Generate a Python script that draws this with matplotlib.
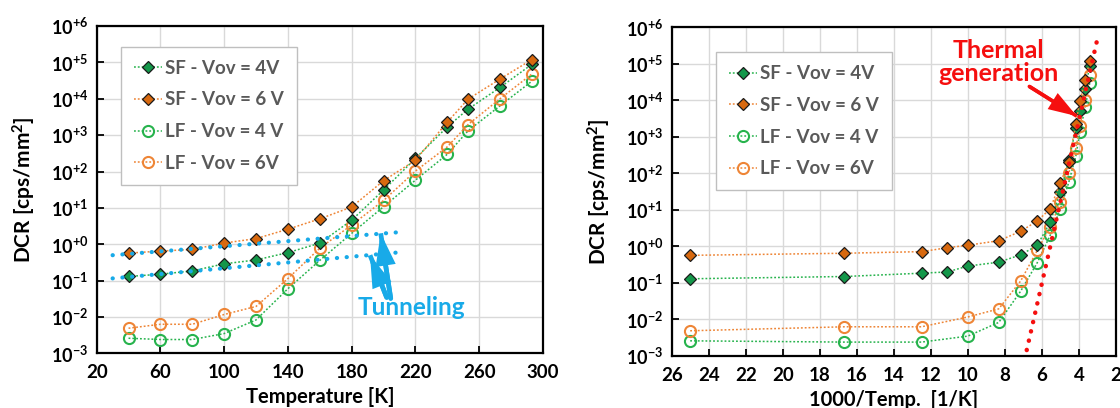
import numpy as np
import matplotlib
matplotlib.use("Agg")
import matplotlib.pyplot as plt
from matplotlib.ticker import FixedLocator, FuncFormatter, NullLocator
from matplotlib.patches import FancyArrowPatch

plt.rcParams['font.family'] = ['Lato', 'DejaVu Sans']
plt.rcParams['font.weight'] = 'bold'
plt.rcParams['mathtext.fontset'] = 'custom'
plt.rcParams['mathtext.rm'] = 'Lato:bold'
plt.rcParams['mathtext.bf'] = 'Lato:bold'
plt.rcParams['mathtext.it'] = 'Lato:bold'

# ---------------- data ----------------
T_SF = [40, 60, 80, 90, 100, 120, 140, 160, 180, 200, 220, 240, 253, 273, 293]
SF_4V = [0.13, 0.15, 0.185, 0.20, 0.29, 0.37, 0.59, 1.07, 4.6, 31, 230, 1700, 5200, 20500, 89000]
SF_6V = [0.57, 0.65, 0.72, 0.92, 1.08, 1.43, 2.6, 5.0, 10.6, 56, 205, 2300, 9800, 35000, 120000]
SF_IN_LEFT = [True, True, True, False, True, True, True, True, True, True, True, True, True, True, True]

T_LF = [40, 60, 80, 100, 120, 140, 160, 180, 200, 220, 240, 253, 273, 293]
LF_4V = [0.0026, 0.0024, 0.0024, 0.0035, 0.0083, 0.06, 0.36, 2.0, 10.8, 58, 300, 1320, 6400, 30500]
LF_6V = [0.0049, 0.0063, 0.0063, 0.0117, 0.0195, 0.114, 0.78, 3.4, 16, 103, 480, 1960, 10000, 48000]

labels = ["SF - Vov = 4V", "SF - Vov = 6 V", "LF - Vov = 4 V", "LF - Vov = 6V"]

# annotation guide lines
tun_x = [30, 210]
tun_upper = [0.5, 2.15]
tun_lower = [0.115, 0.6]
therm_x = [6.82, 3.04]
therm_y = [1.45e-3, 4.0e5]

left_xticks = [20, 60, 100, 140, 180, 220, 260, 300]
right_xticks = [26, 24, 22, 20, 18, 16, 14, 12, 10, 8, 6, 4, 2]
yticks = [1e-3, 1e-2, 1e-1, 1e0, 1e1, 1e2, 1e3, 1e4, 1e5, 1e6]

# ---------------- style ----------------
g_dark = '#14974A'
g_line = '#27B34D'
o_dark = '#D8690F'
o_line = '#EE8536'
blue = '#18AAE8'
red = '#F50F0F'
txtgrey = '#595959'

fig = plt.figure(figsize=(11.2, 4.08), dpi=100)
axL = fig.add_axes([0.0863, 0.134, 0.3985, 0.802])
axR = fig.add_axes([0.5997, 0.1275, 0.3967, 0.8056])

def fmt(v, pos):
    e = int(round(np.log10(v)))
    s = '+%d' % e if e >= 0 else '-%d' % (-e)
    return r'$\mathbf{10^{%s}}$' % s

def style(ax):
    ax.set_yscale('log')
    ax.set_ylim(1e-3, 1e6)
    ax.yaxis.set_major_locator(FixedLocator(yticks))
    ax.yaxis.set_minor_locator(NullLocator())
    ax.yaxis.set_major_formatter(FuncFormatter(fmt))
    ax.grid(True, which='major', color='#d9d9d9', lw=1.0, zorder=0)
    ax.set_axisbelow(True)
    for sp in ax.spines.values():
        sp.set_linewidth(1.6)
        sp.set_color('black')
    ax.tick_params(axis='both', direction='in', length=5, width=1.3,
                   top=False, right=False)
    ax.tick_params(axis='y', pad=6, labelsize=13)
    ax.tick_params(axis='x', pad=8, labelsize=13.5)
    ax.set_ylabel('DCR [cps/mm$^{2}$]', fontsize=15, fontweight='bold', labelpad=9)

def plot_series(ax, xsf, xlf, sf_mask):
    xs = [x for x, m in zip(xsf, sf_mask) if m]
    s4 = [v for v, m in zip(SF_4V, sf_mask) if m]
    s6 = [v for v, m in zip(SF_6V, sf_mask) if m]
    ls = (0, (1.2, 1.3))
    h1, = ax.plot(xs, s4, ls=ls, lw=1.1, color=g_line, marker='D', ms=6.5,
                  mfc=g_dark, mec='#1a1a1a', mew=0.9, zorder=4)
    h2, = ax.plot(xs, s6, ls=ls, lw=1.1, color=o_line, marker='D', ms=6.5,
                  mfc=o_dark, mec='#1a1a1a', mew=0.9, zorder=4)
    h3, = ax.plot(xlf, LF_4V, ls=ls, lw=1.1, color=g_line, marker='o', ms=8,
                  mfc='none', mec=g_line, mew=1.5, zorder=3)
    h4, = ax.plot(xlf, LF_6V, ls=ls, lw=1.1, color=o_line, marker='o', ms=8,
                  mfc='none', mec=o_line, mew=1.5, zorder=3)
    return [h1, h2, h3, h4]

def legend(ax, handles, anchor):
    leg = ax.legend(handles=handles, labels=labels, loc='upper left',
                    bbox_to_anchor=anchor, borderaxespad=0, fancybox=False,
                    edgecolor='#bfbfbf', framealpha=1,
                    labelspacing=0.78, handlelength=1.5, handletextpad=0.15,
                    borderpad=0.7, prop={'weight': 'bold', 'size': 13.5})
    leg.get_frame().set_linewidth(1.0)
    for t in leg.get_texts():
        t.set_color(txtgrey)
    leg.set_zorder(10)

def arrow(ax, tail, head, color, shaft_lw, hw, hl):
    # shaft drawn as a plain line, head as a filled arrow patch
    ax.plot([tail[0], head[0]], [tail[1], head[1]], color=color, lw=shaft_lw,
            solid_capstyle='butt', zorder=7)
    p = FancyArrowPatch(tail, head, transform=ax.transData,
                        arrowstyle='-|>,head_width=%g,head_length=%g' % (hw, hl),
                        mutation_scale=10, color=color, lw=shaft_lw, zorder=7,
                        shrinkA=0, shrinkB=0, joinstyle='miter')
    ax.add_patch(p)

# ---------- left ----------
style(axL)
hL = plot_series(axL, T_SF, T_LF, SF_IN_LEFT)
axL.set_xlim(20, 300)
axL.xaxis.set_major_locator(FixedLocator(left_xticks))
axL.set_xlabel('Temperature [K]', fontsize=14.5, fontweight='bold', labelpad=4)
legend(axL, hL, (0.054, 0.937))

dot = (0, (0.05, 2.3))
axL.plot(tun_x, tun_upper, ls=dot, lw=3.0, color=blue, dash_capstyle='round', zorder=5)
axL.plot(tun_x, tun_lower, ls=dot, lw=3.0, color=blue, dash_capstyle='round', zorder=5)
arrow(axL, (204.5, 0.032), (198.2, 2.0), blue, 3.4, 0.5, 1.6)
arrow(axL, (202, 0.034), (191.5, 0.5), blue, 3.4, 0.5, 1.6)
axL.text(217.6, 0.0178, 'Tunneling', color=blue, fontsize=17.5, fontweight='bold',
         ha='center', va='center', zorder=6)

# ---------- right ----------
style(axR)
inv_sf = [1000.0 / t for t in T_SF]
inv_lf = [1000.0 / t for t in T_LF]
hR = plot_series(axR, inv_sf, inv_lf, [True] * len(T_SF))
axR.set_xlim(26, 2)
axR.xaxis.set_major_locator(FixedLocator(right_xticks))
axR.set_xlabel('1000/Temp.  [1/K]', fontsize=14.5, fontweight='bold', labelpad=4)
legend(axR, hR, (0.10, 0.924))

axR.plot(therm_x, therm_y, ls=(0, (0.05, 2.1)), lw=3.2, color=red,
         dash_capstyle='round', zorder=6)
arrow(axR, (6.68, 2.4e4), (4.12, 3700), red, 2.6, 0.5, 1.5)
axR.text(8.35, 1.09e5, 'Thermal\ngeneration', color=red, fontsize=18,
         fontweight='bold', ha='center', va='center', linespacing=1.0, zorder=7)

fig.savefig('out.png', dpi=100)
